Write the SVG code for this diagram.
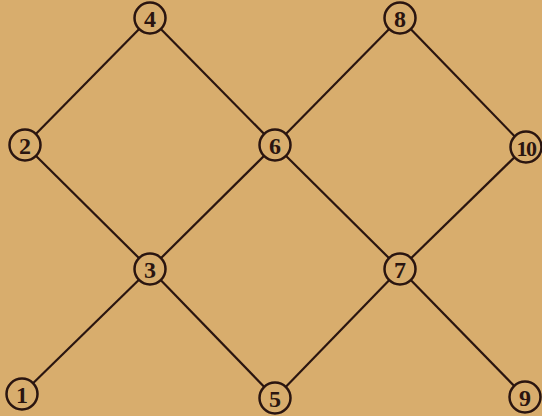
<svg xmlns="http://www.w3.org/2000/svg" width="542" height="416" viewBox="0 0 542 416">
<style>
.bg{fill:#d8ad6d}
.edge{stroke:#2a1510;stroke-width:2.2;fill:none}
.node circle{fill:#d8ad6d;stroke:#2a1510;stroke-width:2.5}
.node text{font-family:"Liberation Serif","DejaVu Serif",serif;font-size:24px;font-weight:bold;fill:#2a1510;text-anchor:middle;dominant-baseline:central}
</style>
<rect class="bg" x="0" y="0" width="542" height="416"/>
<g id="connectors">
<line class="edge" x1="22" y1="394" x2="150" y2="269"/>
<line class="edge" x1="25" y1="145" x2="150" y2="269"/>
<line class="edge" x1="25" y1="145" x2="150" y2="18"/>
<line class="edge" x1="150" y1="18" x2="275" y2="145"/>
<line class="edge" x1="150" y1="269" x2="275" y2="145"/>
<line class="edge" x1="150" y1="269" x2="275" y2="398"/>
<line class="edge" x1="275" y1="145" x2="400" y2="18"/>
<line class="edge" x1="275" y1="145" x2="400" y2="269"/>
<line class="edge" x1="400" y1="18" x2="525" y2="147"/>
<line class="edge" x1="525" y1="147" x2="400" y2="269"/>
<line class="edge" x1="400" y1="269" x2="275" y2="398"/>
<line class="edge" x1="400" y1="269" x2="525" y2="397"/>
</g>
<g id="n1" class="node"><circle cx="22" cy="394" r="15.5"/><text x="22" y="395">1</text></g>
<g id="n2" class="node"><circle cx="25" cy="145" r="15.5"/><text x="25" y="146">2</text></g>
<g id="n3" class="node"><circle cx="150" cy="269" r="15.5"/><text x="150" y="270">3</text></g>
<g id="n4" class="node"><circle cx="150" cy="18" r="15.5"/><text x="150" y="19">4</text></g>
<g id="n5" class="node"><circle cx="275" cy="398" r="15.5"/><text x="275" y="399">5</text></g>
<g id="n6" class="node"><circle cx="275" cy="145" r="15.5"/><text x="275" y="146">6</text></g>
<g id="n7" class="node"><circle cx="400" cy="269" r="15.5"/><text x="400" y="270">7</text></g>
<g id="n8" class="node"><circle cx="400" cy="18" r="15.5"/><text x="400" y="19">8</text></g>
<g id="n9" class="node"><circle cx="525" cy="397" r="15.5"/><text x="525" y="398">9</text></g>
<g id="n10" class="node"><circle cx="526" cy="147" r="15.5"/><text x="526" y="148" style="font-size:22px;letter-spacing:-1.5px">10</text></g>
</svg>
